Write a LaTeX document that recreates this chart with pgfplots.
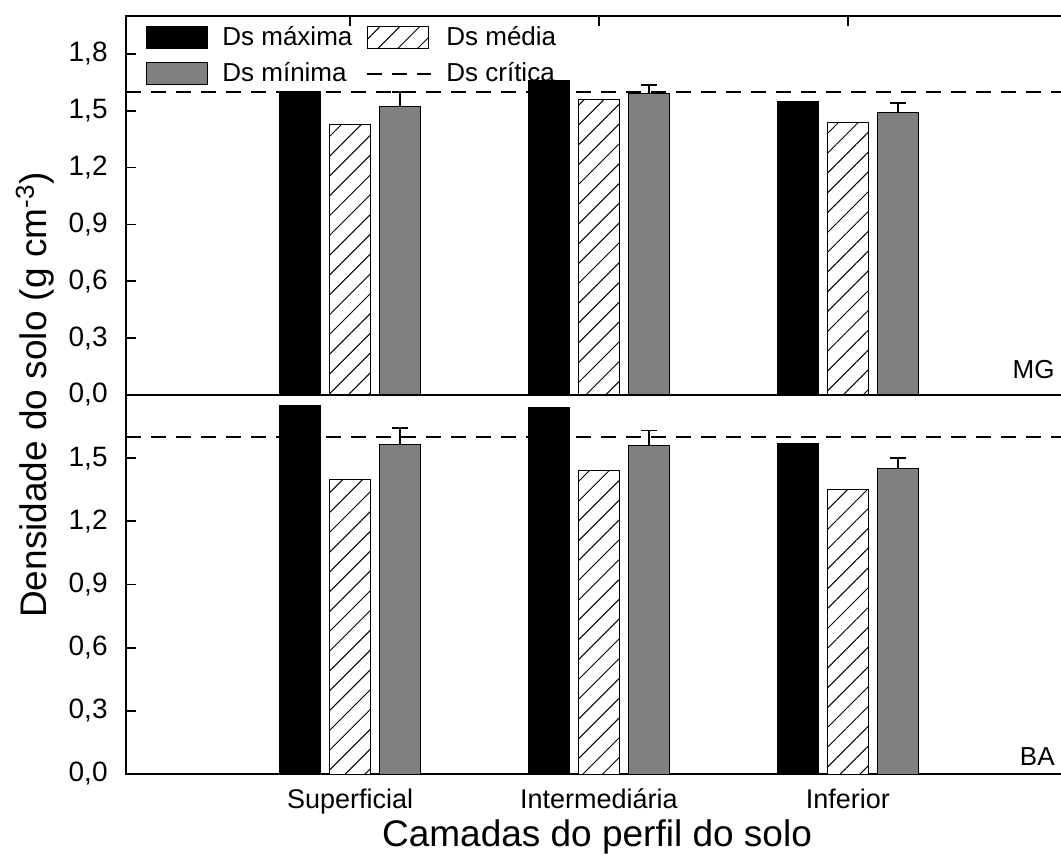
\documentclass[border=0pt]{standalone}
\usepackage{fontspec}
\setmainfont{Liberation Sans}
\usepackage{pgfplots}
\pgfplotsset{compat=1.18}
\usetikzlibrary{patterns.meta}

\pgfplotsset{
  panel/.style={
    scale only axis, width=468pt, height=189.5pt,
    xmin=0.1, xmax=3.86, ymin=0,
    axis line style={line width=0.9pt},
    tick align=inside, ytick pos=left,
    major tick length=5pt,
    every tick/.style={line width=0.9pt, black},
    yticklabel={\pgfmathprintnumber[fixed,fixed zerofill,precision=1,use comma,assume math mode=true]{\tick}},
    yticklabel style={font=\fontsize{14}{16}\selectfont, inner sep=0pt, xshift=-9pt},
    clip=false,
  },
  barbox/.style={legend image code/.code={\draw[##1] (0pt,-5.5pt) rectangle (30.5pt,5.5pt);}},
  barmax/.style={ybar, bar width=20.5pt, bar shift=-25pt, fill=black, draw=black, line width=0.5pt, barbox},
  barmed/.style={ybar, bar width=20.5pt, bar shift=0pt, fill=white, draw=black, line width=0.5pt,
     postaction={pattern={Lines[angle=45,distance=7pt,line width=0.5pt]}}, barbox},
  barmin/.style={ybar, bar width=20.5pt, bar shift=0pt, fill=gray, draw=black, line width=0.5pt, barbox,
     error bars/.cd, y dir=plus, y explicit, error bar style={line width=0.8pt},
     error mark options={line width=0.8pt, mark size=4pt, rotate=90}},
  crit/.style={black, line width=1pt, dash pattern=on 7.5pt off 5pt,
     legend image code/.code={\draw[##1] (0pt,0pt) -- (32pt,0pt);}},
}

\begin{document}
\begin{tikzpicture}
\useasboundingbox (0,0) rectangle (530.5pt,-431pt);

% ---------- upper panel (MG)
\begin{axis}[panel, at={(63pt,-8pt)}, anchor=north west,
  ymax=2.0, ytick={0,0.3,0.6,0.9,1.2,1.5,1.8},
  xtick={1,2,3}, xticklabels={}, xtick pos=right,
  legend columns=2, legend cell align=left,
  legend style={at={(0,1)}, anchor=north west, xshift=10pt, yshift=-4pt,
    draw=none, fill=none, inner sep=0pt, row sep=5pt,
    font=\fontsize{13}{15}\selectfont, nodes={inner sep=1pt},
    /tikz/every odd column/.append style={column sep=6pt},
    /tikz/every even column/.append style={column sep=6pt}},
]
\addplot[barmax] coordinates {(1,1.60) (2,1.66) (3,1.55)};
\addlegendentry{Ds máxima}
\addplot[barmed] coordinates {(1,1.43) (2,1.56) (3,1.44)};
\addlegendentry{Ds média}
\addplot[barmin] coordinates {(1.2,1.52) +- (0,0.08) (2.2,1.59) +- (0,0.045) (3.2,1.49) +- (0,0.05)};
\addlegendentry{Ds mínima}
\addplot[crit] coordinates {(0.1,1.6) (3.86,1.6)};
\addlegendentry{Ds crítica}
\node[anchor=base east, inner sep=0pt, font=\fontsize{13}{15}\selectfont, xshift=-3.5pt, yshift=8.5pt] at (rel axis cs:1,0) {MG};
\end{axis}

% ---------- lower panel (BA)
\begin{axis}[panel, at={(63pt,-197.5pt)}, anchor=north west,
  ymax=1.8, ytick={0,0.3,0.6,0.9,1.2,1.5},
  xtick={1,2,3}, xticklabels={Superficial,Intermediária,Inferior},
  xtick style={draw=none},
  xticklabel style={font=\fontsize{13.5}{15}\selectfont, anchor=base, yshift=-17pt},
]
\addplot[barmax] coordinates {(1,1.75) (2,1.74) (3,1.57)};
\addplot[barmed] coordinates {(1,1.40) (2,1.44) (3,1.35)};
\addplot[barmin] coordinates {(1.2,1.567) +- (0,0.076) (2.2,1.562) +- (0,0.07) (3.2,1.45) +- (0,0.05)};
\addplot[crit, forget plot] coordinates {(0.1,1.6) (3.86,1.6)};
\node[anchor=base east, inner sep=0pt, font=\fontsize{13}{15}\selectfont, xshift=-3.5pt, yshift=4.5pt] at (rel axis cs:1,0) {BA};
\end{axis}

\node[rotate=90, font=\fontsize{18.5}{20}\selectfont] at (17.5pt,-197.5pt) {Densidade do solo (g cm\textsuperscript{-3})};
\node[anchor=base, font=\fontsize{18.5}{20}\selectfont] at (298.5pt,-423pt) {Camadas do perfil do solo};
\end{tikzpicture}
\end{document}
